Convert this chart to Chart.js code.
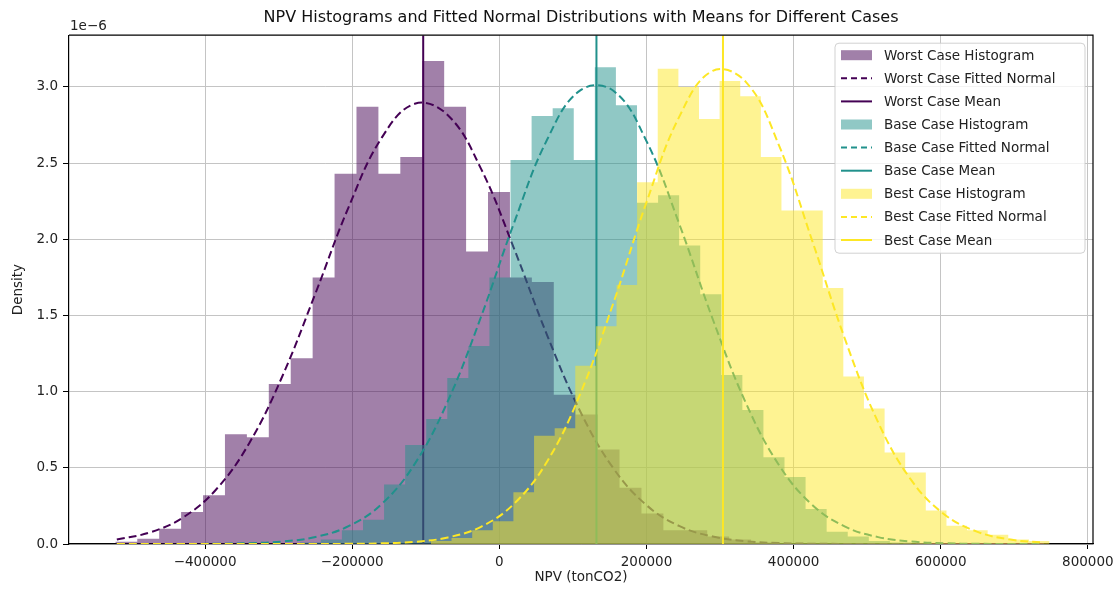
<!DOCTYPE html>
<html>
<head>
<meta charset="utf-8">
<title>NPV Histograms and Fitted Normal Distributions</title>
<script src="https://cdn.jsdelivr.net/npm/chart.js@4.4.1/dist/chart.umd.min.js"></script>
<style>
  html, body { margin: 0; padding: 0; background: #fff; }
  #wrap { width: 1113px; height: 590px; }
</style>
</head>
<body>
<div id="wrap"><canvas id="npvChart" width="1113" height="590"></canvas></div>
<script>
// All densities are in units of 1e-6 (shown as the axis offset label)

// Worst case histogram: bin edges (NPV) and bar heights
const worstEdges = [-522000, -492200, -462400, -432600, -402800, -373000, -343200, -313400, -283600, -253800,
  -224000, -194200, -164400, -134600, -104800, -75000, -45200, -15400, 14400, 44200,
  74000, 103800, 133600, 163400, 193200, 223000, 252800, 282600, 312400, 342200, 372000];
const worstDensity = [0.015, 0.035, 0.10, 0.21, 0.32, 0.72, 0.70, 1.05, 1.22, 1.75,
  2.43, 2.87, 2.43, 2.54, 3.17, 2.87, 1.92, 2.31, 1.75, 1.72,
  0.98, 0.85, 0.62, 0.37, 0.20, 0.09, 0.09, 0.05, 0.03, 0.01];

// Base case histogram
const baseEdges = [-271300, -242650, -214000, -185350, -156700, -128050, -99400, -70750, -42100, -13450,
  15200, 43850, 72500, 101150, 129800, 158450, 187100, 215750, 244400, 273050,
  301700, 330350, 359000, 387650, 416300, 444950, 473600, 502250, 530900, 559550, 588200];
const baseDensity = [0.01, 0.03, 0.09, 0.16, 0.39, 0.65, 0.82, 1.09, 1.30, 1.75,
  2.52, 2.81, 2.86, 2.52, 3.13, 2.88, 2.24, 2.29, 1.96, 1.64,
  1.11, 0.88, 0.57, 0.44, 0.23, 0.08, 0.05, 0.02, 0.01, 0.005];

// Best case histogram
const bestEdges = [-93000, -65000, -36900, -8900, 19100, 47200, 75200, 103200, 131200, 159300,
  187300, 215300, 243400, 271400, 299400, 327500, 355500, 383500, 411500, 439600,
  467600, 495600, 523700, 551700, 579700, 607800, 635800, 663800, 691800, 719900, 747900];
const bestDensity = [0.02, 0.04, 0.09, 0.15, 0.34, 0.71, 0.76, 1.17, 1.43, 1.70,
  2.375, 3.12, 3.00, 2.79, 3.04, 2.94, 2.54, 2.19, 2.19, 1.68,
  1.10, 0.89, 0.60, 0.47, 0.22, 0.12, 0.09, 0.06, 0.03, 0.02];

// Fitted normal curves, read at these NPV positions
const curveX = [-520000, -475000, -430000, -385000, -340000, -295000, -250000, -205000, -160000, -115000,
  -70000, -25000, 20000, 65000, 110000, 155000, 200000, 245000, 290000, 335000,
  380000, 425000, 470000, 515000, 560000, 605000, 650000, 695000, 740000];
const worstFit = [0.030, 0.076, 0.174, 0.358, 0.662, 1.101, 1.645, 2.210, 2.666, 2.890,
  2.815, 2.464, 1.939, 1.370, 0.870, 0.497, 0.255, 0.117, 0.049, 0.018,
  0.006, 0.002, 0.0005, 0.0001, 0, 0, 0, 0, 0];
const baseFit = [0, 0.0001, 0.0004, 0.0014, 0.0051, 0.016, 0.046, 0.117, 0.262, 0.526,
  0.938, 1.490, 2.108, 2.655, 2.978, 2.975, 2.645, 2.095, 1.477, 0.927,
  0.519, 0.258, 0.114, 0.045, 0.016, 0.005, 0.0014, 0.0003, 0.0001];
const bestFit = [0, 0, 0, 0, 0, 0.0001, 0.0003, 0.0011, 0.0042, 0.014,
  0.043, 0.113, 0.264, 0.542, 0.986, 1.582, 2.243, 2.809, 3.106, 3.034,
  2.618, 1.995, 1.343, 0.798, 0.419, 0.194, 0.080, 0.029, 0.009];

// Means (vertical lines) and case labels
const caseNames = ['Worst Case', 'Base Case', 'Best Case'];
const caseMeans = [-103500, 132000, 304000];
const caseColors = ['68,1,84', '33,145,140', '253,231,37'];

// Tick values
const xTickValues = [-400000, -200000, 0, 200000, 400000, 600000, 800000];
const yTickValues = [0, 0.5, 1.0, 1.5, 2.0, 2.5, 3.0];
const yTop = 3.34;

Chart.defaults.font.family = "'DejaVu Sans', sans-serif";
Chart.defaults.font.size = 13.5;
Chart.defaults.color = '#222';

// histogram as a stepped outline, filled down to zero
function stepPoints(edges, heights) {
  const pts = heights.map((h, i) => ({ x: edges[i], y: h }));
  pts.push({ x: edges[edges.length - 1], y: 0 });
  return pts;
}

function curvePoints(ys) {
  return curveX.map((x, i) => ({ x: x, y: ys[i] }));
}

const histData = [stepPoints(worstEdges, worstDensity), stepPoints(baseEdges, baseDensity), stepPoints(bestEdges, bestDensity)];
const fitData = [curvePoints(worstFit), curvePoints(baseFit), curvePoints(bestFit)];

const datasets = [];
caseNames.forEach((name, c) => {
  const rgb = caseColors[c];
  datasets.push({
    label: name + ' Histogram',
    legendKind: 'patch',
    data: histData[c],
    stepped: true,
    fill: 'origin',
    backgroundColor: 'rgba(' + rgb + ',0.5)',
    borderColor: 'rgba(0,0,0,0)',
    borderWidth: 0,
    pointRadius: 0
  });
  datasets.push({
    label: name + ' Fitted Normal',
    legendKind: 'dash',
    data: fitData[c],
    fill: false,
    borderColor: 'rgb(' + rgb + ')',
    borderWidth: 2,
    borderDash: [8, 4],
    tension: 0.4,
    pointRadius: 0
  });
  datasets.push({
    label: name + ' Mean',
    legendKind: 'solid',
    data: [{ x: caseMeans[c], y: 0 }, { x: caseMeans[c], y: yTop }],
    fill: false,
    borderColor: 'rgb(' + rgb + ')',
    borderWidth: 2,
    pointRadius: 0
  });
});
// later datasets on top, like the plotting order
datasets.forEach((ds, i) => { ds.order = datasets.length - i; });

// legend box drawn inside the plot, top right
const insideLegend = {
  id: 'insideLegend',
  afterDraw(chart) {
    const ctx = chart.ctx;
    const area = chart.chartArea;
    const boxW = 250, rowH = 23.1, boxH = 210;
    const x0 = area.right - boxW - 8;
    const y0 = area.top + 8;

    ctx.save();
    ctx.beginPath();
    ctx.roundRect(x0, y0, boxW, boxH, 4);
    ctx.fillStyle = 'rgba(255,255,255,0.8)';
    ctx.fill();
    ctx.strokeStyle = 'rgba(204,204,204,0.9)';
    ctx.lineWidth = 1;
    ctx.stroke();

    ctx.font = "13.5px 'DejaVu Sans', sans-serif";
    ctx.textBaseline = 'middle';
    ctx.textAlign = 'left';
    chart.data.datasets.forEach((ds, i) => {
      const y = y0 + 12 + rowH * i;
      const hx = x0 + 6;
      if (ds.legendKind === 'patch') {
        ctx.fillStyle = ds.backgroundColor;
        ctx.fillRect(hx, y - 5, 31, 10);
      } else {
        ctx.beginPath();
        ctx.setLineDash(ds.legendKind === 'dash' ? [6, 4] : []);
        ctx.strokeStyle = ds.borderColor;
        ctx.lineWidth = 2;
        ctx.moveTo(hx, y);
        ctx.lineTo(hx + 31, y);
        ctx.stroke();
        ctx.setLineDash([]);
      }
      ctx.fillStyle = '#222';
      ctx.fillText(ds.label, x0 + 49, y + 1);
    });
    ctx.restore();
  }
};

// top/right spines and the 1e-6 offset label
const frame = {
  id: 'frame',
  afterDraw(chart) {
    const ctx = chart.ctx;
    const a = chart.chartArea;
    ctx.save();
    ctx.strokeStyle = '#000';
    ctx.lineWidth = 1.2;
    ctx.beginPath();
    ctx.moveTo(a.left, a.top);
    ctx.lineTo(a.right, a.top);
    ctx.lineTo(a.right, a.bottom);
    ctx.stroke();
    ctx.fillStyle = '#222';
    ctx.font = "13.5px 'DejaVu Sans', sans-serif";
    ctx.textAlign = 'left';
    ctx.textBaseline = 'middle';
    ctx.fillText('1e\u22126', a.left + 1, a.top - 9);
    ctx.restore();
  }
};

new Chart(document.getElementById('npvChart'), {
  type: 'line',
  data: { datasets: datasets },
  options: {
    responsive: false,
    animation: false,
    events: [],
    layout: { padding: { left: 0, right: 20, top: 0, bottom: 0 } },
    plugins: {
      legend: { display: false },
      tooltip: { enabled: false },
      title: {
        display: true,
        fullSize: false,
        text: 'NPV Histograms and Fitted Normal Distributions with Means for Different Cases',
        color: '#111',
        font: { size: 16, weight: 'normal' },
        padding: { top: 8, bottom: 8 }
      }
    },
    scales: {
      x: {
        type: 'linear',
        min: -585000,
        max: 807000,
        z: 1,
        grid: { color: '#c4c4c4', lineWidth: 1, tickColor: '#000', tickLength: 5 },
        border: { display: true, color: '#000', width: 1.2 },
        afterBuildTicks: s => { s.ticks = xTickValues.map(v => ({ value: v })); },
        ticks: {
          autoSkip: false,
          maxRotation: 0,
          padding: 5,
          color: '#222',
          callback: v => (v < 0 ? '\u2212' : '') + Math.abs(v)
        },
        title: { display: true, text: 'NPV (tonCO2)', color: '#222', padding: { top: 0, bottom: 4 } },
        afterFit: s => { s.height = 46; s.paddingLeft = 0; s.paddingRight = 0; }
      },
      y: {
        min: 0,
        max: yTop,
        z: 1,
        grid: { color: '#c4c4c4', lineWidth: 1, tickColor: '#000', tickLength: 6 },
        border: { display: true, color: '#000', width: 1.2 },
        afterBuildTicks: s => { s.ticks = yTickValues.map(v => ({ value: v })); },
        ticks: {
          padding: 5,
          color: '#222',
          callback: v => v.toFixed(1)
        },
        title: { display: true, text: 'Density', color: '#222', padding: { top: 10, bottom: 0 } },
        afterFit: s => { s.width = 69; s.paddingTop = 0; s.paddingBottom = 0; }
      }
    }
  },
  plugins: [insideLegend, frame]
});
</script>
</body>
</html>
